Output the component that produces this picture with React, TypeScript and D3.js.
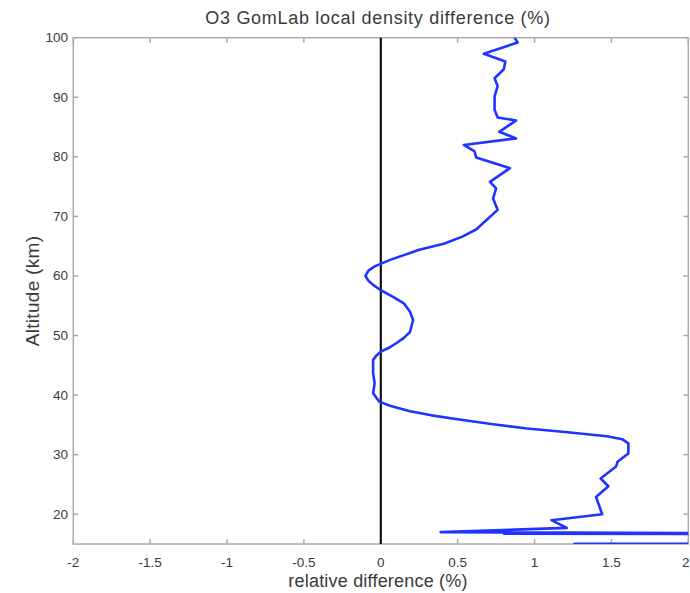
import React from "react";
import * as d3 from "d3";

const relDiff = [
  0.87, 0.89, 0.67, 0.81, 0.80, 0.74, 0.76, 0.74, 0.74, 0.76, 0.88, 0.77, 0.88, 0.54, 0.61, 0.62,
  0.84, 0.71, 0.75, 0.73, 0.76, 0.62, 0.53, 0.41, 0.25, 0.15, 0.06, -0.04, -0.08, -0.10, -0.08, -0.05,
  0.00, 0.08, 0.15, 0.19, 0.21, 0.19, 0.15, 0.10, 0.05, 0.00, -0.03, -0.05, -0.05, -0.04, -0.05,
  -0.01, 0.06, 0.19, 0.33, 0.51, 0.73, 0.95, 1.2, 1.47, 1.57, 1.61, 1.61, 1.54,
  1.53, 1.43, 1.48, 1.40, 1.44, 1.11, 1.21, 0.39, 5.0, 0.8, 5.0, 8.0, 1.26, 6.0,
];
const altitude = [
  100, 99.2, 97.3, 96.0, 94.7, 93.2, 91.9, 90.1, 87.9, 86.6, 86.1, 84.2, 83.1, 82.0, 80.9, 79.9,
  78.1, 75.8, 74.7, 73.0, 71.1, 67.8, 66.6, 65.4, 64.4, 63.5, 62.7, 61.6, 60.9, 60.0, 59.2, 58.5,
  57.6, 56.5, 55.4, 54.0, 52.6, 50.6, 49.6, 48.7, 47.9, 47.3, 46.6, 45.9, 43.7, 42.0, 40.3,
  38.9, 38.2, 37.3, 36.6, 35.9, 35.1, 34.4, 33.8, 33.1, 32.6, 31.9, 30.2, 28.8,
  28.0, 26.0, 24.7, 22.9, 20.0, 19.0, 17.7, 17.0, 16.55, 16.75, 16.6, 15.05, 15.05, 14.9,
];
const xTicks = [-2, -1.5, -1, -0.5, 0, 0.5, 1, 1.5, 2];
const yTicks = [20, 30, 40, 50, 60, 70, 80, 90, 100];

export default function App() {
  const W = 690, H = 593;
  const left = 73.3, right = 688.3, top = 37.7, bottom = 544;
  const x = d3.scaleLinear().domain([-2, 2]).range([left, right]);
  const y = d3.scaleLinear().domain([15, 100]).range([bottom, top]);
  const pts = relDiff.map((v, i) => [v, altitude[i]] as [number, number]);
  const line = d3
    .line<[number, number]>()
    .x(d => x(d[0]))
    .y(d => y(d[1]));
  const axisColor = "#aaaaaa";
  const textColor = "#3a3a3a";
  const font = "Liberation Sans, Arial, Helvetica, sans-serif";
  const tl = 5;
  return (
    <svg width={W} height={H} style={{ position: "absolute", left: 0, top: 0 }} fontFamily={font}>
      <rect x={0} y={0} width={W} height={H} fill="#fff" />
      <defs>
        <clipPath id="plot">
          <rect x={left} y={top} width={right - left} height={bottom - top} />
        </clipPath>
      </defs>
      {xTicks.map((t, i) => (
        <g key={"x" + t}>
          <line x1={x(t)} x2={x(t)} y1={bottom} y2={bottom - tl} stroke={axisColor} strokeWidth={1.5} />
          <line x1={x(t)} x2={x(t)} y1={top} y2={top + tl} stroke={axisColor} strokeWidth={1.5} />
          <text
            x={i === xTicks.length - 1 ? W - 0.5 : x(t)}
            y={567}
            textAnchor={i === xTicks.length - 1 ? "end" : "middle"}
            fontSize={13.5}
            fill={textColor}
          >
            {t}
          </text>
        </g>
      ))}
      {yTicks.map(t => (
        <g key={"y" + t}>
          <line x1={left} x2={left + tl} y1={y(t)} y2={y(t)} stroke={axisColor} strokeWidth={1.5} />
          <line x1={right} x2={right - tl} y1={y(t)} y2={y(t)} stroke={axisColor} strokeWidth={1.5} />
          <text x={68} y={y(t) + 4.5} textAnchor="end" fontSize={13.5} fill={textColor}>{t}</text>
        </g>
      ))}
      <rect x={left} y={top} width={right - left} height={bottom - top} fill="none" stroke={axisColor} strokeWidth={1.5} />
      <line x1={x(0)} x2={x(0)} y1={top} y2={bottom} stroke="#111" strokeWidth={2.2} />
      <path d={line(pts) || ""} fill="none" stroke="#1f35ff" strokeWidth={2.6} strokeLinejoin="round" clipPath="url(#plot)" />
      <text x={378} y={24} textAnchor="middle" fontSize={18} letterSpacing={0.7} fill={textColor}>
        O3 GomLab local density difference (%)
      </text>
      <text x={378} y={587} textAnchor="middle" fontSize={18} letterSpacing={0.2} fill={textColor}>
        relative difference (%)
      </text>
      <text transform={`translate(39,291) rotate(-90)`} textAnchor="middle" fontSize={19} letterSpacing={0.3} fill={textColor}>
        Altitude (km)
      </text>
    </svg>
  );
}
